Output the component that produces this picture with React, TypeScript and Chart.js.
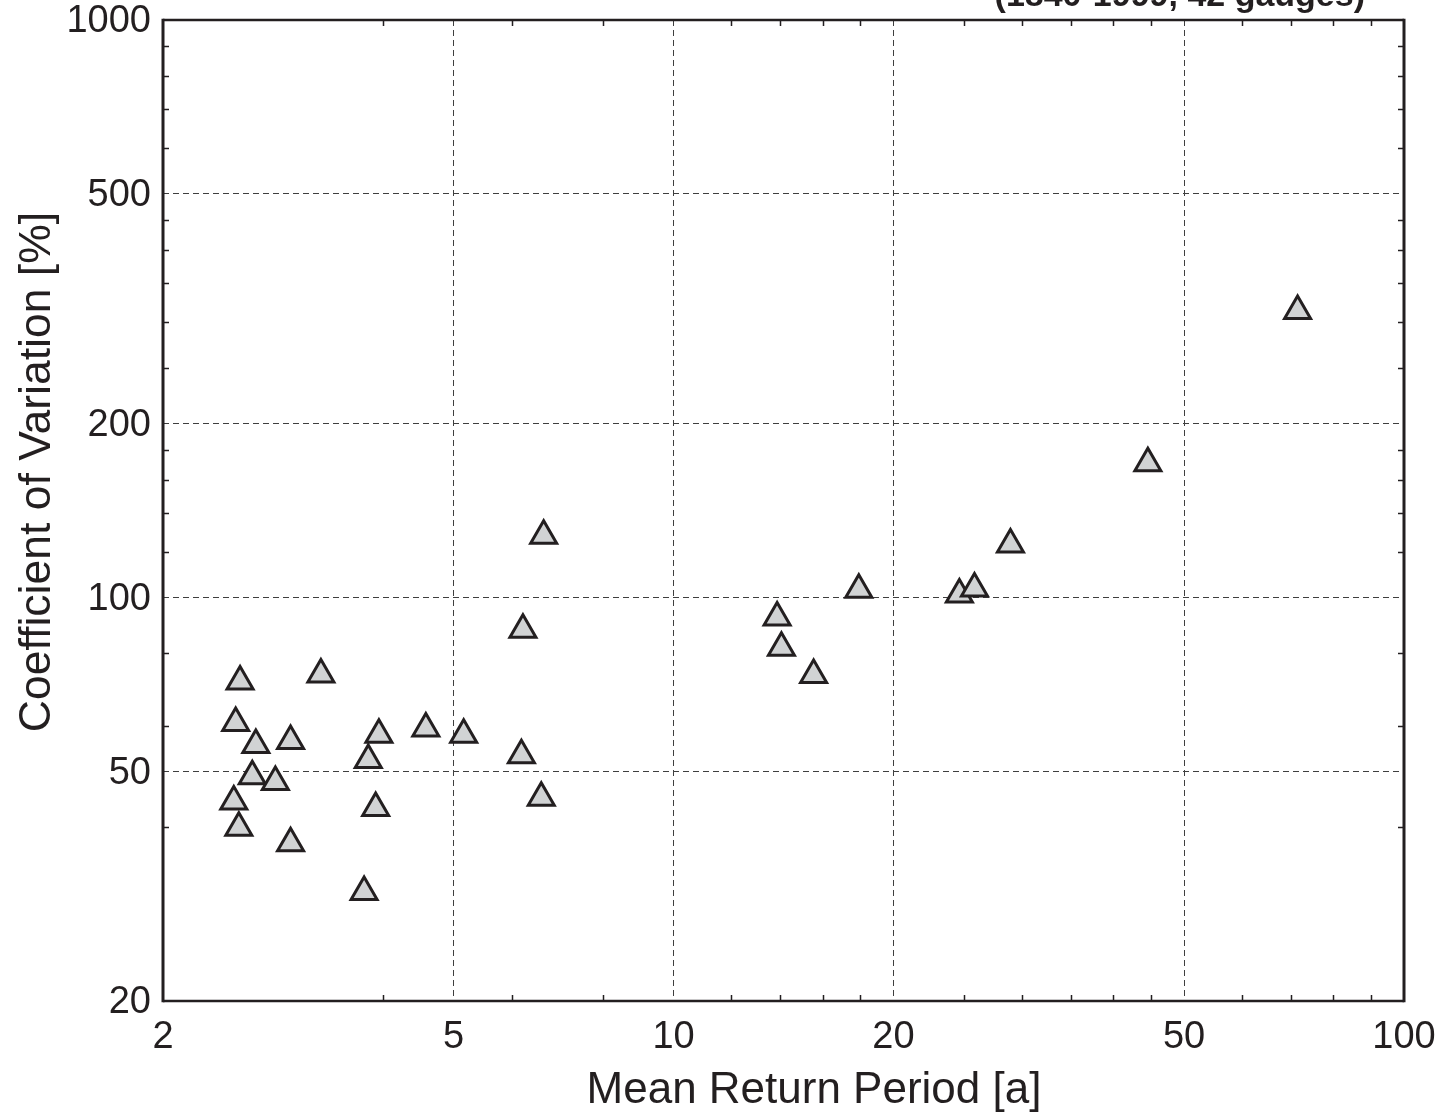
import React, { useEffect, useRef } from "react";
import { Chart, registerables } from "chart.js";

Chart.register(...registerables);

// ---- data ----
const returnPeriods = [
  2.55, 3.29, 2.515, 2.68, 2.99, 3.95, 4.58, 5.16, 6.19, 3.82,
  2.65, 2.85, 2.5, 3.91, 6.59, 2.54, 2.99, 3.77, 6.64, 6.22,
  17.93, 13.86, 14.05, 15.55, 24.62, 25.82, 28.92, 44.6, 71.5,
];
const coefVariation = [
  71.5, 73.5, 60.6, 55.5, 56.4, 57.8, 59.3, 57.8, 53.3, 52.3,
  49.0, 47.9, 44.3, 43.2, 45.0, 39.9, 37.5, 30.9, 127.9, 87.9,
  103.1, 92.3, 81.8, 73.4, 101.2, 103.6, 123.5, 170.7, 313.5,
];
const xTickValues = [2, 5, 10, 20, 50, 100];
const yTickValues = [20, 50, 100, 200, 500, 1000];
const xMinorTicks = [4, 6, 8, 12, 14, 16, 18, 25, 30, 35, 40, 45, 60, 70, 80, 90];
const yMinorTicks = [40, 60, 80, 120, 140, 160, 180, 250, 300, 350, 400, 450, 600, 700, 800, 900];
const xAxisTitle = "Mean Return Period [a]";
const yAxisTitle = "Coefficient of Variation [%]";
const chartTitle = "(1840-1999, 42 gauges)";

const INK = "#231f20";
const FONT = "'Liberation Sans', Arial, Helvetica, sans-serif";

const framePlugin = {
  id: "framePlugin",
  afterDraw(chart: any) {
    const { ctx, chartArea, scales } = chart;
    const { left, right, top, bottom } = chartArea;
    const x = scales.x;
    const y = scales.y;
    ctx.save();
    ctx.strokeStyle = INK;
    ctx.lineWidth = 1.5;
    ctx.beginPath();
    xMinorTicks.forEach((v) => {
      const px = Math.round(x.getPixelForValue(v)) + 0.5;
      ctx.moveTo(px, bottom);
      ctx.lineTo(px, bottom - 6);
      ctx.moveTo(px, top);
      ctx.lineTo(px, top + 6);
    });
    yMinorTicks.forEach((v) => {
      const py = Math.round(y.getPixelForValue(v)) + 0.5;
      ctx.moveTo(left, py);
      ctx.lineTo(left + 6, py);
      ctx.moveTo(right, py);
      ctx.lineTo(right - 6, py);
    });
    ctx.stroke();

    // frame
    ctx.lineWidth = 2.5;
    ctx.beginPath();
    ctx.moveTo(left, top);
    ctx.lineTo(right, top);
    ctx.moveTo(left, bottom);
    ctx.lineTo(right, bottom);
    ctx.stroke();
    ctx.lineWidth = 3;
    ctx.beginPath();
    ctx.moveTo(left, top - 1.25);
    ctx.lineTo(left, bottom + 1.25);
    ctx.moveTo(right, top - 1.25);
    ctx.lineTo(right, bottom + 1.25);
    ctx.stroke();

    // titles
    ctx.fillStyle = INK;
    ctx.font = `44px ${FONT}`;
    ctx.textAlign = "center";
    ctx.textBaseline = "alphabetic";
    ctx.fillText(xAxisTitle, 814, 1103);

    ctx.save();
    ctx.translate(50, 472);
    ctx.rotate(-Math.PI / 2);
    ctx.font = `44.5px ${FONT}`;
    ctx.fillText(yAxisTitle, 0, 0);
    ctx.restore();

    ctx.font = `bold 34px ${FONT}`;
    ctx.textAlign = "right";
    ctx.fillText(chartTitle, 1365, 6);
    ctx.restore();
  },
};

const zeroPadding = (scale: any) => {
  scale.paddingTop = 0;
  scale.paddingBottom = 0;
  scale.paddingLeft = 0;
  scale.paddingRight = 0;
};

export default function App() {
  const canvasRef = useRef<HTMLCanvasElement | null>(null);

  useEffect(() => {
    const canvas = canvasRef.current;
    if (!canvas) return;
    const points = returnPeriods.map((v, i) => ({ x: v, y: coefVariation[i] }));
    const gridColor = (ctx: any, majors: number[]) => {
      const v = ctx.tick ? ctx.tick.value : null;
      if (v === null) return "rgba(0,0,0,0)";
      if (v === majors[0] || v === majors[majors.length - 1]) return "rgba(0,0,0,0)";
      return "#3f3f3f";
    };
    const chart = new Chart(canvas, {
      type: "scatter",
      data: {
        datasets: [
          {
            data: points,
            pointStyle: "triangle",
            pointRadius: 15,
            pointHoverRadius: 15,
            backgroundColor: "#d1d3d4",
            borderColor: INK,
            borderWidth: 3,
          },
        ],
      },
      options: {
        animation: false,
        responsive: false,
        maintainAspectRatio: false,
        events: [],
        layout: { padding: { left: 0, right: 46, top: 20, bottom: 0 } },
        plugins: {
          legend: { display: false },
          tooltip: { enabled: false },
          title: { display: false },
        },
        scales: {
          x: {
            type: "logarithmic",
            min: 2,
            max: 100,
            afterBuildTicks: (scale: any) => {
              scale.ticks = xTickValues.map((v) => ({ value: v }));
            },
            afterFit: (scale: any) => {
              scale.height = 114;
              zeroPadding(scale);
            },
            ticks: {
              autoSkip: false,
              maxRotation: 0,
              minRotation: 0,
              padding: 14,
              color: INK,
              font: { family: FONT, size: 38 },
              callback: (value: any) => String(value),
            },
            grid: {
              drawTicks: false,
              lineWidth: 1,
              color: (ctx: any) => gridColor(ctx, xTickValues),
            },
            border: { display: false, dash: [6, 4] },
          },
          y: {
            type: "logarithmic",
            min: 20,
            max: 1000,
            afterBuildTicks: (scale: any) => {
              scale.ticks = yTickValues.map((v) => ({ value: v }));
            },
            afterFit: (scale: any) => {
              scale.width = 163;
              zeroPadding(scale);
            },
            ticks: {
              autoSkip: false,
              padding: 12,
              labelOffset: 2,
              color: INK,
              font: { family: FONT, size: 38 },
              callback: (value: any) => String(value),
            },
            grid: {
              drawTicks: false,
              lineWidth: 1,
              color: (ctx: any) => gridColor(ctx, yTickValues),
            },
            border: { display: false, dash: [6, 4] },
          },
        },
      },
      plugins: [framePlugin],
    });
    return () => chart.destroy();
  }, []);

  return (
    <div
      style={{
        position: "fixed",
        left: 0,
        top: 0,
        width: 1450,
        height: 1115,
        background: "#ffffff",
      }}
    >
      <canvas ref={canvasRef} width={1450} height={1115} style={{ width: 1450, height: 1115, display: "block" }} />
    </div>
  );
}
